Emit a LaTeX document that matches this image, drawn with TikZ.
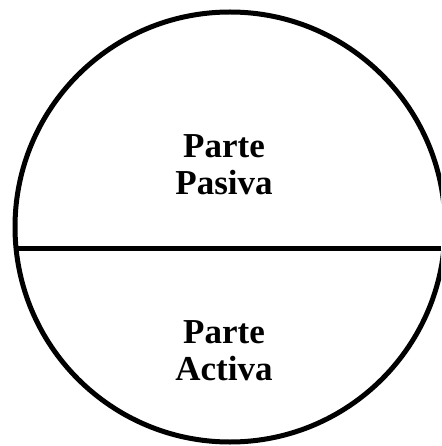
\documentclass[tikz,border=0pt]{standalone}
\usepackage{fontspec}
\setmainfont{Liberation Serif}
\usetikzlibrary{positioning}
\tikzset{%
    part/.style={
        font=\bfseries\fontsize{35}{37}\selectfont,
        align=center
    }
}
\tikzset{rim/.style={line width=5pt}}

\begin{document}
\begin{tikzpicture}[x=1pt,y=-1pt]
		\useasboundingbox (0,0) rectangle (441,446);
		\begin{scope}
		\clip (0,0) rectangle (441,446);

		% Circle and dividing line
		\coordinate (centre) at (230,227);
		\draw[rim] (centre) circle [radius=215pt];
		\coordinate (west) at (16,248);
		\coordinate (east) at (441,248);
		\draw[rim] (west) -- (east);
		\end{scope}

		% Labels of both halves
		\node[part] (pasiva) at (224,165) {Parte\\Pasiva};
		\node[part] (activa) at (224,351) {Parte\\Activa};
	\end{tikzpicture}
\end{document}
